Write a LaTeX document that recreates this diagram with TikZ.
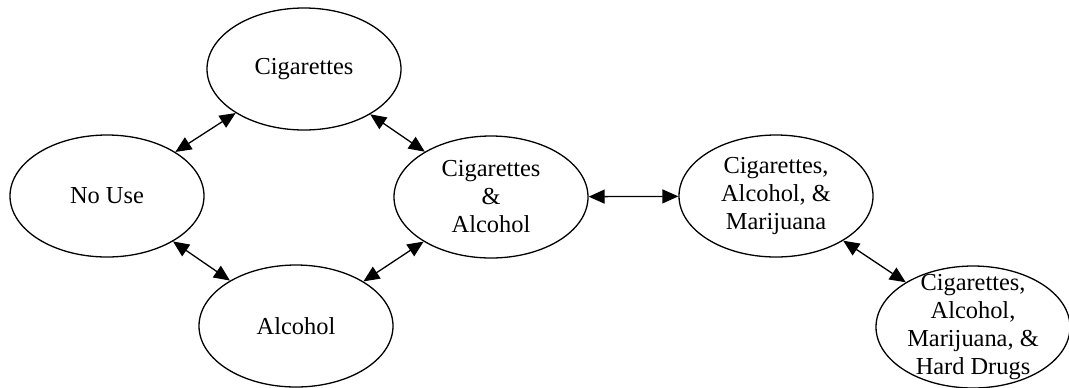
\documentclass[tikz,border=0pt]{standalone}
\usepackage{fontspec}
\setmainfont{Liberation Serif}
\usetikzlibrary{shapes}
\usetikzlibrary{arrows.meta}

\tikzset{
    state/.style={ellipse,draw,black,line width=0.65pt,minimum width=97pt,minimum height=61pt,
        inner sep=0pt,align=center,font=\fontsize{12.2}{14}\selectfont},
    link/.style={{Triangle[length=8pt,width=7pt]}-{Triangle[length=8pt,width=7pt]},line width=0.65pt,black}
}

\begin{document}
\begin{tikzpicture}[x=0.5pt,y=-0.5pt]
    \useasboundingbox (0,0) rectangle (1069,387);
    % States
    \node[state] (nouse) at (107,196) {No Use};
    \node[state] (cig) at (304,69) {Cigarettes};
    \node[state] (alc) at (296,326) {Alcohol};
    \node[state] (cigalc) at (491,197) {Cigarettes\\\&\\Alcohol};
    \node[state] (cigalcmar) at (776,196) {Cigarettes,\\Alcohol, \&\\Marijuana};
    \node[state,inner ysep=-8pt] (hard) at (973,327) {Cigarettes,\\Alcohol,\\Marijuana, \&\\Hard Drugs};
    % Transitions
    \draw[link] (nouse) -- (cig);
    \draw[link] (nouse) -- (alc);
    \draw[link] (cig) -- (cigalc);
    \draw[link] (alc) -- (cigalc);
    \draw[link] (cigalc) -- (cigalcmar);
    \draw[link] (cigalcmar) -- (hard);
\end{tikzpicture}
\end{document}
